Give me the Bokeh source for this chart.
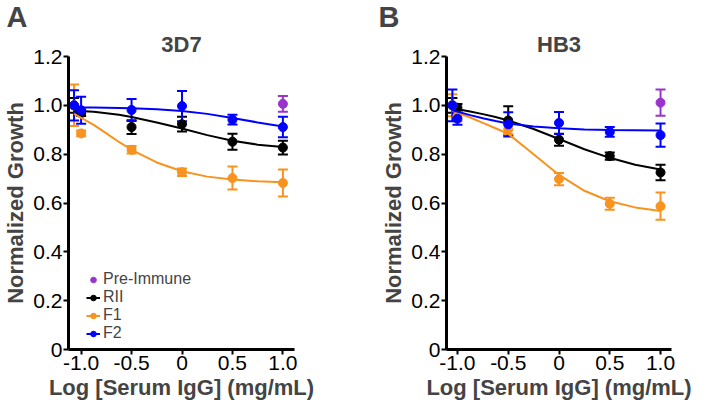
from bokeh.plotting import figure
from bokeh.models import (Whisker, ColumnDataSource, FixedTicker, PrintfTickFormatter,
                          Legend, LegendItem, TeeHead, Range1d, Title)
from bokeh.layouts import row
from bokeh.embed import file_html
from bokeh.resources import INLINE

# ---------------- data ----------------
x_ticks = [-1.0, -0.5, 0.0, 0.5, 1.0]
y_ticks = [0.0, 0.2, 0.4, 0.6, 0.8, 1.0, 1.2]

# Panel A (3D7)
a_x = [-1.07, -1.0, -0.5, 0.0, 0.5, 1.0]
a_rii = [1.0, 0.968, 0.911, 0.923, 0.851, 0.827]
a_rii_err = [0.03, 0.012, 0.028, 0.03, 0.033, 0.028]
a_f1 = [1.0, 0.885, 0.818, 0.726, 0.702, 0.682]
a_f1_err = [0.085, 0.012, 0.015, 0.015, 0.047, 0.055]
a_f2 = [1.0, 0.98, 0.981, 0.997, 0.941, 0.911]
a_f2_err = [0.062, 0.055, 0.045, 0.062, 0.02, 0.042]
a_pre_x = [1.0]
a_pre = [1.006]
a_pre_err = [0.032]

# Panel A fitted curves
a_curve_x = [-1.07, -0.875, -0.75, -0.625, -0.5, -0.25, 0.0, 0.25, 0.5, 0.75, 1.0]
a_rii_fit = [0.978, 0.974, 0.968, 0.961, 0.952, 0.93, 0.905, 0.878, 0.855, 0.839, 0.829]
a_f1_fit = [0.965, 0.92, 0.885, 0.85, 0.818, 0.766, 0.73, 0.708, 0.696, 0.689, 0.685]
a_f2_fit = [0.991, 0.991, 0.99, 0.989, 0.988, 0.984, 0.977, 0.965, 0.948, 0.93, 0.913]

# Panel B (HB3)
b_x = [-1.05, -1.0, -0.5, 0.0, 0.5, 1.0]
b_rii = [1.0, 0.99, 0.938, 0.859, 0.792, 0.725]
b_rii_err = [0.03, 0.015, 0.058, 0.025, 0.015, 0.032]
b_f1 = [1.0, 0.955, 0.902, 0.698, 0.597, 0.587]
b_f1_err = [0.045, 0.02, 0.02, 0.025, 0.025, 0.056]
b_f2 = [1.0, 0.945, 0.922, 0.928, 0.891, 0.878]
b_f2_err = [0.065, 0.025, 0.05, 0.045, 0.02, 0.048]
b_pre_x = [1.0]
b_pre = [1.011]
b_pre_err = [0.054]

b_curve_x = [-1.05, -0.875, -0.75, -0.625, -0.5, -0.25, 0.0, 0.25, 0.5, 0.75, 1.0]
b_rii_fit = [0.988, 0.975, 0.964, 0.952, 0.938, 0.903, 0.862, 0.82, 0.785, 0.757, 0.737]
b_f1_fit = [0.978, 0.95, 0.928, 0.906, 0.883, 0.80, 0.715, 0.65, 0.607, 0.582, 0.567]
b_f2_fit = [0.98, 0.96, 0.947, 0.936, 0.926, 0.913, 0.906, 0.901, 0.899, 0.898, 0.897]

C_RII = "#000000"
C_F1 = "#F7931E"
C_F2 = "#0000FF"
C_PRE = "#9933CC"
FONT = "Liberation Sans"


def add_series(p, xs, ys, errs, color, cx=None, cy=None):
    line_r = None
    if cx is not None:
        line_r = p.line(cx, cy, line_color=color, line_width=2)
    src = ColumnDataSource(dict(x=xs, y=ys,
                                upper=[v + e for v, e in zip(ys, errs)],
                                lower=[v - e for v, e in zip(ys, errs)]))
    w = Whisker(source=src, base="x", upper="upper", lower="lower",
                line_color=color, line_width=2,
                upper_head=TeeHead(size=10, line_color=color, line_width=2),
                lower_head=TeeHead(size=10, line_color=color, line_width=2))
    p.add_layout(w)
    sc = p.scatter("x", "y", source=src, size=9, fill_color=color, line_color=color)
    return line_r, sc


def make_panel(title, letter, letter_off, xr, fw, border_left, border_right, data, legend=False):
    p = figure(frame_width=fw, frame_height=293, output_backend="svg", toolbar_location=None,
               x_range=Range1d(*xr), y_range=Range1d(0, 1.2),
               min_border_left=border_left, min_border_right=border_right,
               min_border_top=0, min_border_bottom=56)
    p.title = None
    t_main = Title(text=title, align="center", text_font=FONT, text_font_size="22px",
                   text_font_style="bold", standoff=-1)
    p.add_layout(t_main, "above")
    t_letter = Title(text=letter, align="left", offset=letter_off, text_font=FONT,
                     text_font_size="29px", text_font_style="bold", standoff=-4)
    p.add_layout(t_letter, "above")

    p.outline_line_color = None
    p.grid.visible = False
    p.background_fill_color = "white"
    p.border_fill_color = "white"

    for ax in (p.xaxis[0], p.yaxis[0]):
        ax.axis_line_width = 3
        ax.major_tick_line_width = 2
        ax.major_tick_in = 0
        ax.major_tick_out = 5
        ax.minor_tick_line_color = None
        ax.major_label_text_font = FONT
        ax.major_label_text_font_size = "21px"
        ax.major_label_text_color = "black"
        ax.axis_label_text_font = FONT
        ax.axis_label_text_font_size = "22px"
        ax.axis_label_text_font_style = "bold"
        ax.formatter = PrintfTickFormatter(format="%.1f")
        ax.major_label_overrides = {0: "0"}
        ax.major_label_standoff = 1
        ax.axis_label_standoff = 2
    p.xaxis.ticker = FixedTicker(ticks=x_ticks)
    p.yaxis.ticker = FixedTicker(ticks=y_ticks)
    p.xaxis.axis_label = "Log [Serum IgG] (mg/mL)"
    p.yaxis.axis_label = "Normalized Growth"

    (xs, rii, rii_e, f1, f1_e, f2, f2_e, px, pre, pre_e, cx, rii_fit, f1_fit, f2_fit) = data
    l_rii, s_rii = add_series(p, xs, rii, rii_e, C_RII, cx, rii_fit)
    l_f1, s_f1 = add_series(p, xs, f1, f1_e, C_F1, cx, f1_fit)
    l_f2, s_f2 = add_series(p, xs, f2, f2_e, C_F2, cx, f2_fit)
    _, s_pre = add_series(p, px, pre, pre_e, C_PRE)

    if legend:
        leg = Legend(items=[
            LegendItem(label="Pre-Immune", renderers=[s_pre]),
            LegendItem(label="RII", renderers=[l_rii, s_rii]),
            LegendItem(label="F1", renderers=[l_f1, s_f1]),
            LegendItem(label="F2", renderers=[l_f2, s_f2]),
        ], location=(18, 7), orientation="vertical",
            label_text_font=FONT, label_text_font_size="16px",
            glyph_width=14, glyph_height=15, label_height=15, spacing=0,
            label_standoff=3, padding=0, margin=0,
            border_line_color=None, background_fill_alpha=0)
        p.add_layout(leg, "center")
    return p


pa = make_panel("3D7", "A", -62, (-1.125, 1.115), 226, 62, 64,
                (a_x, a_rii, a_rii_err, a_f1, a_f1_err, a_f2, a_f2_err,
                 a_pre_x, a_pre, a_pre_err, a_curve_x, a_rii_fit, a_f1_fit, a_f2_fit),
                legend=True)
pb = make_panel("HB3", "B", -68, (-1.108, 1.108), 225, 88, 39,
                (b_x, b_rii, b_rii_err, b_f1, b_f1_err, b_f2, b_f2_err,
                 b_pre_x, b_pre, b_pre_err, b_curve_x, b_rii_fit, b_f1_fit, b_f2_fit))

layout = row(pa, pb)
open("out.html", "w").write(file_html(layout, INLINE))
